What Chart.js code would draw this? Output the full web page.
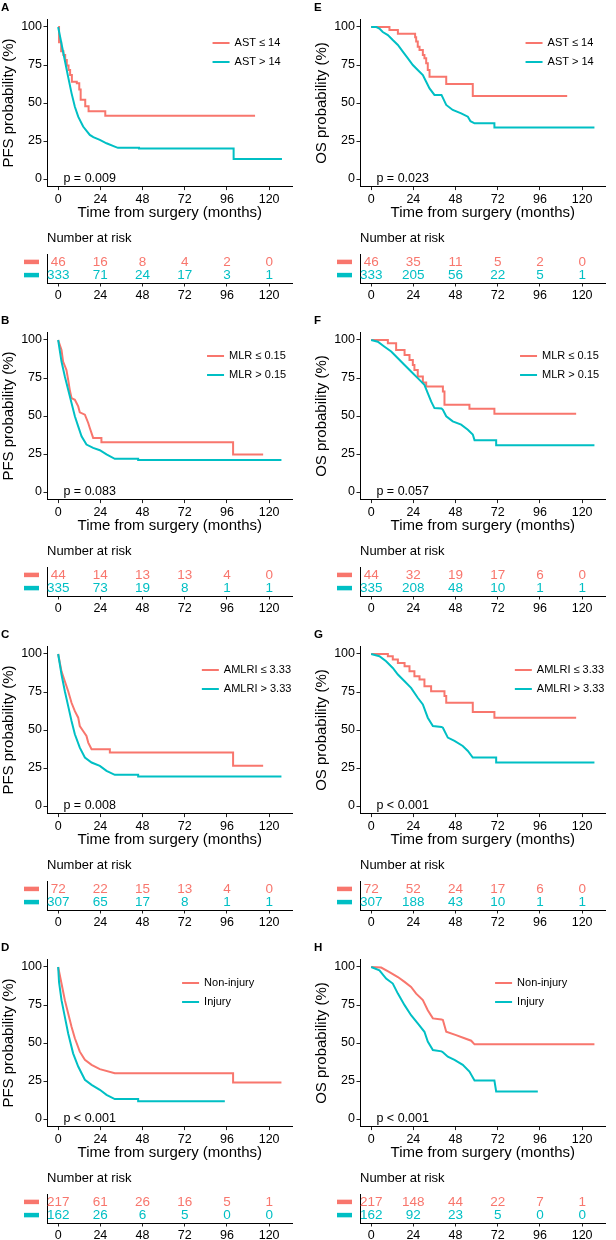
<!DOCTYPE html>
<html lang="en">
<head>
<meta charset="UTF-8">
<title>KM curves</title>
<script src="https://cdn.jsdelivr.net/npm/chart.js"></script>
<style>
  body { margin: 0; background: #fff; width: 616px; height: 1240px; overflow: hidden; position: relative; }
  canvas { position: absolute; }
</style>
</head>
<body>
<script>
// colours of the two strata
const RED = '#F8766D';
const CYAN = '#00BFC4';
const FONT = "'Liberation Sans', Arial, sans-serif";

// axis ticks
const xTicks = [0, 24, 48, 72, 96, 120];
const yTicks = [0, 25, 50, 75, 100];
const riskTimes = [0, 24, 48, 72, 96, 120];

// curves: [months, survival %]
const pfsAstLo = [[0,100],[0.5,100],[0.5,90],[1.7,90],[1.7,84],[3,84],[3,81.6],[4,81.6],[4,78.3],[4.9,78.3],[4.9,74.6],[5.9,74.6],[5.9,71.7],[6.8,71.7],[6.8,68.4],[7.8,68.4],[7.8,64],[10.6,64],[10.6,63],[12,63],[12,58.8],[12.8,58.8],[12.8,52.2],[15.4,52.2],[15.4,47.8],[17.3,47.8],[17.3,44.5],[26.8,44.5],[26.8,41.6],[112,41.6]];
const pfsAstHi = [[0,100],[1.9,89],[3.8,78],[5.7,67],[7.6,56.5],[9.5,47.5],[11.4,41],[14.2,34.5],[18,29],[20,27.5],[23.7,25.7],[27.5,23.5],[32.2,21.3],[34,20.5],[46,20.5],[46,20],[99.8,20],[99.8,13.2],[127.3,13.2]];
const osAstLo = [[0,100],[10.4,100],[10.4,98],[15.2,98],[15.2,95.6],[25,95.6],[25,93.2],[25.6,93.2],[25.6,90.4],[26.5,90.4],[26.5,87],[27.5,87],[27.5,84.9],[29.4,84.9],[29.4,81.6],[30.3,81.6],[30.3,79.4],[31.3,79.4],[31.3,76.1],[32.2,76.1],[32.2,71.7],[33.2,71.7],[33.2,67.3],[42.7,67.3],[42.7,62.5],[57.8,62.5],[57.8,54.6],[111.5,54.6]];
const osAstHi = [[0,100],[3,100],[4.7,99],[6.6,96.7],[9.5,94.7],[12.3,91.4],[15.2,88.2],[18,83.8],[20.9,79.4],[23.7,75],[26.5,71.7],[29.4,68.4],[31.3,64],[33.2,59.6],[36,55.3],[40,55.3],[42.7,48.7],[46.4,45.4],[51.2,43.2],[55,41],[56.5,38],[58.8,36.6],[70.1,36.6],[70.1,33.8],[127,33.8]];

const pfsMlrLo = [[0,100],[1.9,93.4],[2.8,85.8],[4.7,80.3],[5.7,73.8],[6.6,67.2],[7.6,61.8],[9.5,60.7],[11.4,56.3],[12.3,52.4],[15.2,50.9],[17.1,45.4],[18,42.1],[19.9,35.6],[24.6,35.6],[24.6,32.8],[99.5,32.8],[99.5,24.7],[116.6,24.7]];
const pfsMlrHi = [[0,100],[1.9,85.8],[3.8,76],[5.7,67.2],[7.6,58.5],[9.5,49.8],[11.4,43.2],[13.3,36.7],[16.1,31.2],[19.9,29],[23.7,27.5],[27.5,24.7],[32.2,21.8],[45.5,21.8],[45.5,21],[127,21]];
const osMlrLo = [[0,100],[9.5,100],[9.5,97.8],[14.2,97.8],[14.2,93.4],[19,93.4],[19,90.2],[21.8,90.2],[21.8,86.9],[23.7,86.9],[23.7,83.6],[24.6,83.6],[24.6,80.3],[26.5,80.3],[26.5,76],[29.4,76],[29.4,72],[31.3,72],[31.3,69.4],[40.8,69.4],[40.8,66.2],[41.7,66.2],[41.7,57.4],[55.9,57.4],[55.9,54.8],[70.1,54.8],[70.1,51.5],[116.6,51.5]];
const osMlrHi = [[0,100],[3.8,98.9],[7.6,95.6],[11.4,92.4],[15.2,88],[19,83.6],[22.7,79.3],[26.5,74.9],[30.3,70.5],[32.2,65.1],[34.1,59.6],[36,55.2],[40,55],[40.8,54.1],[42.7,49.8],[46.4,46.5],[51.2,44.3],[55,41],[57.8,37.8],[58.8,34.1],[71.1,34.1],[71.1,30.8],[127,30.8]];

const pfsAmlriLo = [[0,100],[1.9,88.6],[3.8,82.1],[5.7,75.5],[7.6,67.9],[9.5,62.4],[11.4,58.1],[12.3,52.6],[14.2,49.3],[16.1,46.1],[17.1,41.7],[19,37.3],[29.4,37.3],[29.4,35.2],[99.5,35.2],[99.5,26.4],[116.6,26.4]];
const pfsAmlriHi = [[0,100],[1.9,86.5],[3.8,75.5],[5.7,65.7],[7.6,55.9],[9.5,47.2],[12.3,38.4],[15.2,31.9],[19,28.6],[23.7,26.4],[27.5,23.1],[32.2,20.5],[45.5,20.5],[45.5,19.4],[127,19.4]];
const osAmlriLo = [[0,100],[9.5,100],[9.5,98.5],[12.3,98.5],[12.3,96.3],[15.2,96.3],[15.2,94.1],[19,94.1],[19,91.9],[21.8,91.9],[21.8,88.6],[24.6,88.6],[24.6,85.4],[27.5,85.4],[27.5,83.2],[30.3,83.2],[30.3,78.8],[34.1,78.8],[34.1,75.5],[41.7,75.5],[41.7,72.3],[42.7,72.3],[42.7,67.9],[57.8,67.9],[57.8,61.8],[70.1,61.8],[70.1,58.1],[116.6,58.1]];
const osAmlriHi = [[0,100],[4.7,98.5],[8.5,95.2],[12.3,90.8],[15.2,86.5],[19,82.1],[22.7,77.7],[26.5,71.2],[29.4,66.8],[32.2,58.1],[35.1,52.6],[40,52],[40.8,51.5],[43.6,45],[47.4,42.8],[52.1,39.5],[55,36.2],[57.8,31.9],[71.1,31.9],[71.1,28.6],[127,28.6]];

const pfsInjLo = [[0,100],[1.9,89.1],[3.8,78.2],[5.7,69.4],[7.6,60.7],[9.5,53.1],[12.3,44.3],[15.2,38.9],[19,35.6],[23.7,32.8],[32.2,30.1],[99.5,30.1],[99.5,24],[127,24]];
const pfsInjHi = [[0,100],[0.5,90],[1.9,78.2],[3.8,67.2],[5.7,56.3],[8.5,43.2],[11.4,34.5],[15.2,25.8],[19,22.5],[23.7,19.2],[27.5,15.9],[32.2,13.1],[45.5,13.1],[45.5,11.6],[94.8,11.6]];
const osInjLo = [[0,100],[5.7,99.6],[10.4,96.7],[15.2,93.4],[19,90.2],[22.7,86.9],[25.6,82.5],[29.4,78.2],[32.2,71.6],[35.1,66.2],[40,65.5],[40.8,65.1],[42.7,57.4],[48.3,55.2],[53.1,53.1],[56.9,51.5],[58.8,49.1],[127,49.1]];
const osInjHi = [[0,100],[4.7,97.8],[8.5,92.4],[12.3,89.1],[15.2,82.5],[19,74.9],[22.7,68.3],[26.5,62.9],[30.3,57.4],[32.2,50.9],[35.1,45.4],[40,44.5],[40.8,43.9],[43.6,41],[47.4,38.9],[52.1,35.6],[55.9,31.2],[58.8,25.3],[70.1,25.3],[71.1,18.1],[94.8,18.1]];

// numbers at risk at riskTimes
const riskPfsAstLo = [46, 16, 8, 4, 2, 0];
const riskPfsAstHi = [333, 71, 24, 17, 3, 1];
const riskOsAstLo = [46, 35, 11, 5, 2, 0];
const riskOsAstHi = [333, 205, 56, 22, 5, 1];
const riskPfsMlrLo = [44, 14, 13, 13, 4, 0];
const riskPfsMlrHi = [335, 73, 19, 8, 1, 1];
const riskOsMlrLo = [44, 32, 19, 17, 6, 0];
const riskOsMlrHi = [335, 208, 48, 10, 1, 1];
const riskPfsAmlriLo = [72, 22, 15, 13, 4, 0];
const riskPfsAmlriHi = [307, 65, 17, 8, 1, 1];
const riskOsAmlriLo = [72, 52, 24, 17, 6, 0];
const riskOsAmlriHi = [307, 188, 43, 10, 1, 1];
const riskPfsInjLo = [217, 61, 26, 16, 5, 1];
const riskPfsInjHi = [162, 26, 6, 5, 0, 0];
const riskOsInjLo = [217, 148, 44, 22, 7, 1];
const riskOsInjHi = [162, 92, 23, 5, 0, 0];

// legend labels
const labAst = ['AST \u2264 14', 'AST > 14'];
const labMlr = ['MLR \u2264 0.15', 'MLR > 0.15'];
const labAmlri = ['AMLRI \u2264 3.33', 'AMLRI > 3.33'];
const labInj = ['Non-injury', 'Injury'];

const panels = [
  { letter: 'A', col: 0, row: 0, yTitle: 'PFS probability (%)', lo: pfsAstLo, hi: pfsAstHi, labels: labAst, pval: 'p = 0.009', rLo: riskPfsAstLo, rHi: riskPfsAstHi, legX: 107.2 },
  { letter: 'B', col: 0, row: 1, yTitle: 'PFS probability (%)', lo: pfsMlrLo, hi: pfsMlrHi, labels: labMlr, pval: 'p = 0.083', rLo: riskPfsMlrLo, rHi: riskPfsMlrHi, legX: 107.2 },
  { letter: 'C', col: 0, row: 2, yTitle: 'PFS probability (%)', lo: pfsAmlriLo, hi: pfsAmlriHi, labels: labAmlri, pval: 'p = 0.008', rLo: riskPfsAmlriLo, rHi: riskPfsAmlriHi, legX: 107.2 },
  { letter: 'D', col: 0, row: 3, yTitle: 'PFS probability (%)', lo: pfsInjLo, hi: pfsInjHi, labels: labInj, pval: 'p < 0.001', rLo: riskPfsInjLo, rHi: riskPfsInjHi, legX: 91 },
  { letter: 'E', col: 1, row: 0, yTitle: 'OS probability (%)', lo: osAstLo, hi: osAstHi, labels: labAst, pval: 'p = 0.023', rLo: riskOsAstLo, rHi: riskOsAstHi, legX: 107.2 },
  { letter: 'F', col: 1, row: 1, yTitle: 'OS probability (%)', lo: osMlrLo, hi: osMlrHi, labels: labMlr, pval: 'p = 0.057', rLo: riskOsMlrLo, rHi: riskOsMlrHi, legX: 107.2 },
  { letter: 'G', col: 1, row: 2, yTitle: 'OS probability (%)', lo: osAmlriLo, hi: osAmlriHi, labels: labAmlri, pval: 'p < 0.001', rLo: riskOsAmlriLo, rHi: riskOsAmlriHi, legX: 107.2 },
  { letter: 'H', col: 1, row: 3, yTitle: 'OS probability (%)', lo: osInjLo, hi: osInjHi, labels: labInj, pval: 'p < 0.001', rLo: riskOsInjLo, rHi: riskOsInjHi, legX: 91 },
];

// layout
const COL_X = [0, 313.2];
const ROW_PITCH = 313.3;
const W = 300;
const KM_H = 228;
const RISK_H = 78;
const AREA_RIGHT = 292.6;

// curve decoration: letter, p value, legend
const kmDecor = {
  id: 'kmDecor',
  afterDraw(chart) {
    const o = chart.options.plugins.kmDecor;
    const { ctx, chartArea: a, scales: { x, y } } = chart;
    ctx.save();
    ctx.fillStyle = '#000';
    ctx.textBaseline = 'middle';
    ctx.textAlign = 'left';
    ctx.font = 'bold 11.5px ' + FONT;
    ctx.fillText(o.letter, a.left - 46, a.top - 12);

    ctx.font = '12.5px ' + FONT;
    ctx.fillText(o.pval, x.getPixelForValue(3), y.getPixelForValue(0));

    // legend
    ctx.font = '11px ' + FONT;
    const tw = Math.max(...o.labels.map(t => ctx.measureText(t).width));
    const w = 17 + 5 + tw;
    const left = x.getPixelForValue(o.legX) - w / 2;
    const cols = [RED, CYAN];
    [23.6, 42.6].forEach((dy, i) => {
      const yy = a.top + dy;
      ctx.strokeStyle = cols[i];
      ctx.lineWidth = 2;
      ctx.beginPath();
      ctx.moveTo(left, yy);
      ctx.lineTo(left + 17, yy);
      ctx.stroke();
      ctx.fillStyle = '#000';
      ctx.fillText(o.labels[i], left + 22, yy);
    });
    ctx.restore();
  }
};

const riskDecor = {
  id: 'riskDecor',
  afterDraw(chart) {
    const o = chart.options.plugins.riskDecor;
    const { ctx, chartArea: a, scales: { x, y } } = chart;
    ctx.save();
    ctx.textBaseline = 'middle';
    ctx.fillStyle = '#000';
    ctx.textAlign = 'left';
    ctx.font = '13px ' + FONT;
    ctx.fillText('Number at risk', a.left, a.top - 16);

    const rows = [{ v: o.lo, c: RED, at: 2 }, { v: o.hi, c: CYAN, at: 1 }];
    ctx.textAlign = 'center';
    ctx.font = '13.5px ' + FONT;
    rows.forEach(r => {
      const yy = y.getPixelForValue(r.at);
      ctx.strokeStyle = r.c;
      ctx.lineWidth = 4.5;
      ctx.beginPath();
      ctx.moveTo(a.left - 23, yy);
      ctx.lineTo(a.left - 8, yy);
      ctx.stroke();
      ctx.fillStyle = r.c;
      riskTimes.forEach((t, i) => ctx.fillText(String(r.v[i]), x.getPixelForValue(t), yy + 0.5));
    });
    ctx.restore();
  }
};

function xScale(height, title) {
  return {
    type: 'linear', min: -6.35, max: 133.35,
    afterBuildTicks: s => { s.ticks = xTicks.map(v => ({ value: v })); },
    afterFit: s => { s.height = height; },
    grid: { drawOnChartArea: false, drawTicks: true, tickLength: 3.5, color: '#222', lineWidth: 1 },
    border: { display: true, color: '#000', width: 1 },
    ticks: { color: '#000', font: { size: 12.5, family: FONT }, padding: 1.5, maxRotation: 0, autoSkip: false },
    title: { display: !!title, text: title || '', color: '#000', font: { size: 15, family: FONT }, padding: { top: 0, bottom: 6 } }
  };
}

function makeCanvas(left, top, h) {
  const c = document.createElement('canvas');
  c.width = W; c.height = h;
  c.style.left = left + 'px'; c.style.top = top + 'px';
  c.style.width = W + 'px'; c.style.height = h + 'px';
  document.body.appendChild(c);
  return c;
}

panels.forEach(p => {
  const left = COL_X[p.col];
  const top = p.row * ROW_PITCH;

  const km = makeCanvas(left, top, KM_H);
  new Chart(km.getContext('2d'), {
    type: 'line',
    data: {
      datasets: [
        { data: p.hi.map(d => ({ x: d[0], y: d[1] })), borderColor: CYAN, borderWidth: 2, pointRadius: 0, tension: 0, fill: false },
        { data: p.lo.map(d => ({ x: d[0], y: d[1] })), borderColor: RED, borderWidth: 2, pointRadius: 0, tension: 0, fill: false, order: 1 }
      ]
    },
    options: {
      animation: false, responsive: false, devicePixelRatio: 1,
      layout: { padding: { left: 0, top: 19.4, right: W - AREA_RIGHT, bottom: 0 } },
      plugins: {
        legend: { display: false }, tooltip: { enabled: false },
        kmDecor: { letter: p.letter, pval: p.pval, labels: p.labels, legX: p.legX }
      },
      scales: {
        x: xScale(KM_H - 186.6, 'Time from surgery (months)'),
        y: {
          type: 'linear', min: -5, max: 105,
          afterBuildTicks: s => { s.ticks = yTicks.map(v => ({ value: v })); },
          afterFit: s => { s.width = 47; },
          grid: { drawOnChartArea: false, drawTicks: true, tickLength: 3.5, color: '#222', lineWidth: 1 },
          border: { display: true, color: '#000', width: 1 },
          ticks: { color: '#000', font: { size: 12.5, family: FONT }, padding: 1.5 },
          title: { display: true, text: p.yTitle, color: '#000', font: { size: 15, family: FONT }, padding: { top: 0, bottom: 0 } }
        }
      }
    },
    plugins: [kmDecor]
  });

  const rk = makeCanvas(left, top + KM_H, RISK_H);
  new Chart(rk.getContext('2d'), {
    type: 'scatter',
    data: { datasets: [] },
    options: {
      animation: false, responsive: false, devicePixelRatio: 1,
      layout: { padding: { left: 0, top: 26, right: W - AREA_RIGHT, bottom: 0 } },
      plugins: { legend: { display: false }, tooltip: { enabled: false }, riskDecor: { lo: p.rLo, hi: p.rHi } },
      scales: {
        x: xScale(23),
        y: {
          type: 'linear', min: 0.4, max: 2.6,
          afterFit: s => { s.width = 47; },
          grid: { display: false, drawTicks: false },
          border: { display: true, color: '#000', width: 1 },
          ticks: { display: false }
        }
      }
    },
    plugins: [riskDecor]
  });
});
</script>
</body>
</html>
